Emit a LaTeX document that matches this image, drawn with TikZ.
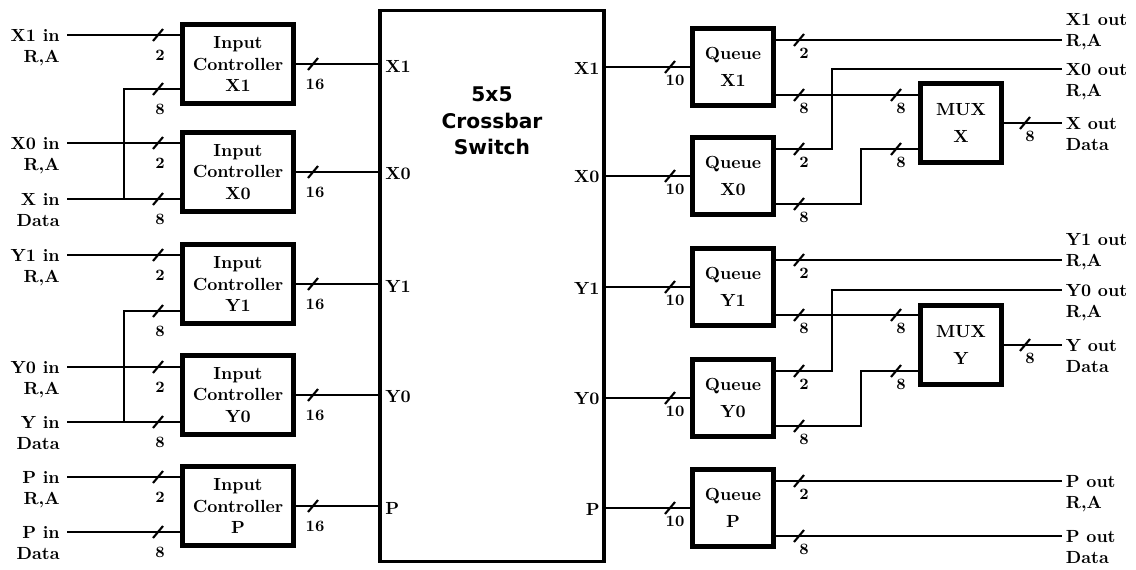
\documentclass[tikz,border=0pt]{standalone}
\usepackage{fontspec}
\newfontfamily\titlefont{DejaVu Sans}
\usepackage{tikz}
\usetikzlibrary{positioning,calc}

\begin{document}
\begin{tikzpicture}[
    x=0.02cm, y=-0.02cm,
    box/.style={draw, line width=2.5pt, font=\bfseries, align=center, inner sep=0pt},
    ctrlbox/.style={box, minimum width=2.22cm, minimum height=1.58cm},
    queuebox/.style={box, minimum width=1.62cm, minimum height=1.54cm},
    muxbox/.style={box, minimum width=1.62cm, minimum height=1.58cm},
    wire/.style={line width=1.2pt},
    inlabel/.style={anchor=north east, align=right, font=\bfseries, inner sep=0pt, xshift=-4pt, yshift=3.5pt},
    outlabel/.style={anchor=north west, align=left, font=\bfseries, inner sep=0pt, xshift=2pt, yshift=3.5pt},
    outlabel2/.style={outlabel, yshift=12pt},
    portlabel/.style={font=\bfseries, inner sep=0pt},
    buslabel/.style={font=\small\bfseries, inner sep=0pt},
    pics/bus/.style={code={\draw[wire] (-5,6) -- (5,-6); \node[buslabel] at (5,13) {#1};}},
    pics/buslow/.style={code={\draw[wire] (-5,6) -- (5,-6); \node[buslabel] at (2,20) {#1};}},
]
    \useasboundingbox (0,0) rectangle (1136,569);

    % Crossbar
    \node[box, line width=2.2pt, minimum width=4.48cm, minimum height=11.02cm] (xbar) at (492,286) {};
    \node[font=\fontsize{11.5}{15}\titlefont\bfseries, align=center] (xbartitle) at (492,121) {5x5\\Crossbar\\Switch};

    % Input controllers
    \node[ctrlbox] (icX1) at (238,64) {Input\\Controller\\X1};
    \node[ctrlbox] (icX0) at (238,172) {Input\\Controller\\X0};
    \node[ctrlbox] (icY1) at (238,284) {Input\\Controller\\Y1};
    \node[ctrlbox] (icY0) at (238,395) {Input\\Controller\\Y0};
    \node[ctrlbox] (icP) at (238,506) {Input\\Controller\\P};

    % Inputs
    \coordinate (inX1) at (67,35);
    \coordinate (inX0) at (67,143);
    \coordinate (inX) at (67,199);
    \coordinate (inY1) at (67,255);
    \coordinate (inY0) at (67,367);
    \coordinate (inY) at (67,422);
    \coordinate (inPra) at (67,477);
    \coordinate (inPd) at (67,532);
    \coordinate (splitX) at (124,199);
    \coordinate (splitY) at (124,422);

    \draw[wire] (inX1) -- (inX1 -| icX1.west);
    \draw[wire] (inX0) -- (inX0 -| icX0.west);
    \draw[wire] (inX) -- (inX -| icX0.west);
    \draw[wire] (splitX) |- ($(icX1.west)+(0,25)$);
    \draw[wire] (inY1) -- (inY1 -| icY1.west);
    \draw[wire] (inY0) -- (inY0 -| icY0.west);
    \draw[wire] (inY) -- (inY -| icY0.west);
    \draw[wire] (splitY) |- ($(icY1.west)+(0,27)$);
    \draw[wire] (inPra) -- (inPra -| icP.west);
    \draw[wire] (inPd) -- (inPd -| icP.west);

    \node[inlabel] at (inX1) {X1 in\\R,A};
    \node[inlabel] at (inX0) {X0 in\\R,A};
    \node[inlabel] at (inX) {X in\\Data};
    \node[inlabel] at (inY1) {Y1 in\\R,A};
    \node[inlabel] at (inY0) {Y0 in\\R,A};
    \node[inlabel] at (inY) {Y in\\Data};
    \node[inlabel] at (inPra) {P in\\R,A};
    \node[inlabel] at (inPd) {P in\\Data};

    \pic at (158,35) {buslow=2};
    \pic at (158,89) {buslow=8};
    \pic at (158,143) {buslow=2};
    \pic at (158,199) {buslow=8};
    \pic at (158,255) {buslow=2};
    \pic at (158,311) {buslow=8};
    \pic at (158,367) {buslow=2};
    \pic at (158,422) {buslow=8};
    \pic at (158,477) {buslow=2};
    \pic at (158,532) {buslow=8};

    % Controllers to crossbar
    \draw[wire] (icX1.east) -- (icX1.east -| xbar.west);
    \draw[wire] (icX0.east) -- (icX0.east -| xbar.west);
    \draw[wire] (icY1.east) -- (icY1.east -| xbar.west);
    \draw[wire] (icY0.east) -- (icY0.east -| xbar.west);
    \draw[wire] (icP.east) -- (icP.east -| xbar.west);
    \pic at (313,64) {buslow=16};
    \pic at (313,172) {buslow=16};
    \pic at (313,284) {buslow=16};
    \pic at (313,395) {buslow=16};
    \pic at (313,506) {buslow=16};

    \node[portlabel, anchor=west] at ($(xbar.west |- icX1.east)+(7,2)$) {X1};
    \node[portlabel, anchor=west] at ($(xbar.west |- icX0.east)+(7,2)$) {X0};
    \node[portlabel, anchor=west] at ($(xbar.west |- icY1.east)+(7,2)$) {Y1};
    \node[portlabel, anchor=west] at ($(xbar.west |- icY0.east)+(7,2)$) {Y0};
    \node[portlabel, anchor=west] at ($(xbar.west |- icP.east)+(7,2)$) {P};

    % Queues
    \node[queuebox] (qX1) at (733,67) {Queue\\[3pt]X1};
    \node[queuebox] (qX0) at (733,176) {Queue\\[3pt]X0};
    \node[queuebox] (qY1) at (733,287) {Queue\\[3pt]Y1};
    \node[queuebox] (qY0) at (733,398) {Queue\\[3pt]Y0};
    \node[queuebox] (qP) at (733,508) {Queue\\[3pt]P};

    \draw[wire] (xbar.east |- qX1.west) -- (qX1.west);
    \draw[wire] (xbar.east |- qX0.west) -- (qX0.west);
    \draw[wire] (xbar.east |- qY1.west) -- (qY1.west);
    \draw[wire] (xbar.east |- qY0.west) -- (qY0.west);
    \draw[wire] (xbar.east |- qP.west) -- (qP.west);
    \pic at (670,67) {bus=10};
    \pic at (670,176) {bus=10};
    \pic at (670,287) {bus=10};
    \pic at (670,398) {bus=10};
    \pic at (670,508) {bus=10};

    \node[portlabel, anchor=east] at ($(xbar.east |- qX1.west)+(-6,1)$) {X1};
    \node[portlabel, anchor=east] at ($(xbar.east |- qX0.west)+(-6,1)$) {X0};
    \node[portlabel, anchor=east] at ($(xbar.east |- qY1.west)+(-6,1)$) {Y1};
    \node[portlabel, anchor=east] at ($(xbar.east |- qY0.west)+(-6,1)$) {Y0};
    \node[portlabel, anchor=east] at ($(xbar.east |- qP.west)+(-6,1)$) {P};

    % Multiplexers
    \node[muxbox] (muxX) at (961,123) {MUX\\[3pt]X};
    \node[muxbox] (muxY) at (961,345) {MUX\\[3pt]Y};

    % Outputs
    \coordinate (outX1) at (1062,40);
    \coordinate (outX0) at (1062,69);
    \coordinate (outX) at (1062,123);
    \coordinate (outY1) at (1062,260);
    \coordinate (outY0) at (1062,290);
    \coordinate (outY) at (1062,345);
    \coordinate (outPra) at (1062,481);
    \coordinate (outPd) at (1062,536);

    \draw[wire] (outX1 -| qX1.east) -- (outX1);
    \draw[wire] ($(qX1.east)+(0,28)$) -- ($(muxX.west)+(0,-28)$);
    \draw[wire] ($(qX0.east)+(0,-27)$) -- ++(56,0) |- (outX0);
    \draw[wire] ($(qX0.east)+(0,28)$) -- ++(85,0) |- ($(muxX.west)+(0,26)$);
    \draw[wire] (muxX.east) -- (outX);
    \draw[wire] (outY1 -| qY1.east) -- (outY1);
    \draw[wire] ($(qY1.east)+(0,28)$) -- ($(muxY.west)+(0,-30)$);
    \draw[wire] ($(qY0.east)+(0,-27)$) -- ++(56,0) |- (outY0);
    \draw[wire] ($(qY0.east)+(0,28)$) -- ++(85,0) |- ($(muxY.west)+(0,26)$);
    \draw[wire] (muxY.east) -- (outY);
    \draw[wire] (outPra -| qP.east) -- (outPra);
    \draw[wire] (outPd -| qP.east) -- (outPd);

    \pic at (799,40) {bus=2};
    \pic at (799,95) {bus=8};
    \pic at (799,149) {bus=2};
    \pic at (799,204) {bus=8};
    \pic at (799,260) {bus=2};
    \pic at (799,315) {bus=8};
    \pic at (799,371) {bus=2};
    \pic at (799,426) {bus=8};
    \pic at (799,481) {bus=2};
    \pic at (799,536) {bus=8};
    \pic at (896,95) {bus=8};
    \pic at (896,149) {bus=8};
    \pic at (896,315) {bus=8};
    \pic at (896,371) {bus=8};
    \pic at (1025,123) {bus=8};
    \pic at (1025,345) {bus=8};

    \node[outlabel2] at (outX1) {X1 out\\R,A};
    \node[outlabel] at (outX0) {X0 out\\R,A};
    \node[outlabel] at (outX) {X out\\Data};
    \node[outlabel2] at (outY1) {Y1 out\\R,A};
    \node[outlabel] at (outY0) {Y0 out\\R,A};
    \node[outlabel] at (outY) {Y out\\Data};
    \node[outlabel] at (outPra) {P out\\R,A};
    \node[outlabel] at (outPd) {P out\\Data};
\end{tikzpicture}
\end{document}
